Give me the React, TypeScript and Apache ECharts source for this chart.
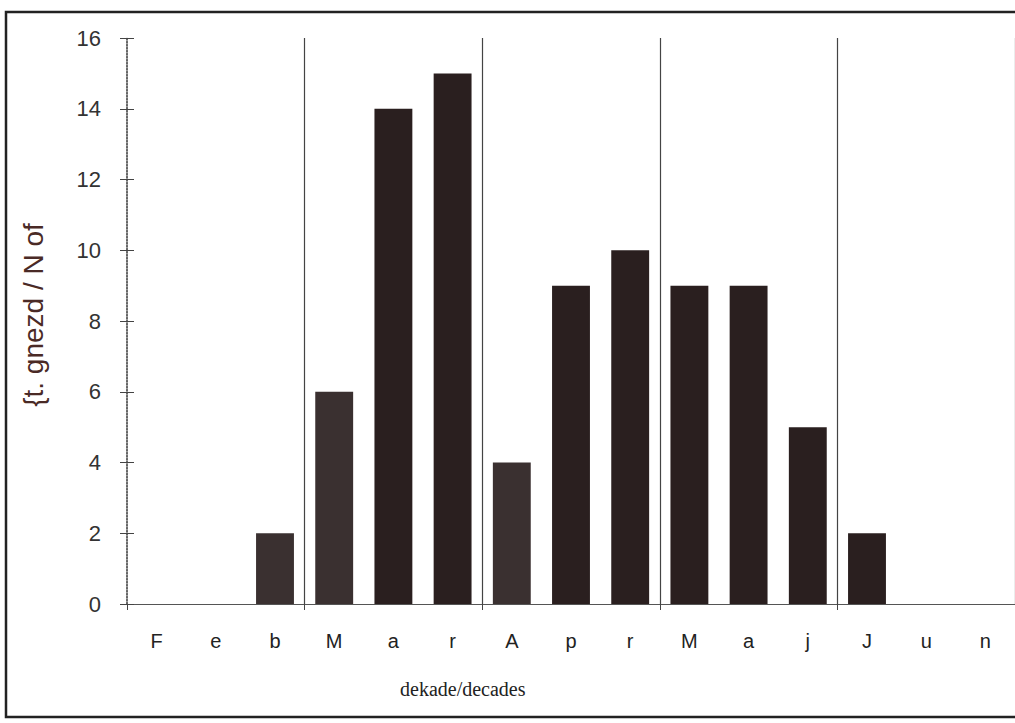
import React, { useEffect, useRef } from "react";
import * as echarts from "echarts";

const categories = ["F", "e", "b", "M", "a", "r", "A", "p", "r", "M", "a", "j", "J", "u", "n"];
const nestCounts = [0, 0, 2, 6, 14, 15, 4, 9, 10, 9, 9, 5, 2, 0, 0];
const lighterBars = [2, 3, 6];
const yMin = 0;
const yMax = 16;
const yStep = 2;
const yTitle = "{t. gnezd / N of";
const xTitle = "dekade/decades";

export default function App() {
  const ref = useRef<HTMLDivElement>(null);
  useEffect(() => {
    if (!ref.current) return;
    const chart = echarts.init(ref.current, undefined, { renderer: "svg" });
    const option = {
      animation: false,
      backgroundColor: "#ffffff",
      grid: { left: 127, right: 0, top: 38, bottom: 119, containLabel: false },
      xAxis: {
        type: "category",
        data: categories,
        boundaryGap: true,
        axisLine: { show: true, lineStyle: { color: "#555", width: 1.2 } },
        axisTick: {
          show: true,
          interval: (i: number) => i % 3 === 0,
          length: 6,
          lineStyle: { color: "#444" },
        },
        splitLine: {
          show: true,
          interval: (i: number) => i % 3 === 0 && i > 0,
          lineStyle: { color: "#444", width: 1.2 },
        },
        axisLabel: {
          interval: 0,
          margin: 27,
          fontSize: 20,
          color: "#222",
          fontFamily: "Liberation Sans, Arial, sans-serif",
        },
      },
      yAxis: [
        {
          type: "value",
          min: yMin,
          max: yMax,
          interval: yStep,
          name: yTitle,
          nameLocation: "middle",
          nameGap: 80,
          nameRotate: 90,
          nameTextStyle: {
            fontSize: 28,
            color: "#4a2a26",
            fontFamily: "Liberation Sans, Arial, sans-serif",
            padding: [0, 0, 0, 12],
          },
          axisLine: { show: true, lineStyle: { color: "#333", type: "dotted", width: 1.5 } },
          axisTick: { show: true, length: 7, lineStyle: { color: "#444" } },
          splitLine: { show: false },
          axisLabel: {
            margin: 26,
            fontSize: 22,
            color: "#333",
            fontFamily: "Liberation Sans, Arial, sans-serif",
          },
        },
        {
          type: "value",
          min: yMin,
          max: yMax,
          interval: yStep,
          position: "left",
          axisLine: { show: false },
          axisTick: { show: true, inside: true, length: 7, lineStyle: { color: "#444" } },
          axisLabel: { show: false },
          splitLine: { show: false },
        },
      ],
      series: [
        {
          type: "bar",
          barWidth: "64%",
          data: nestCounts.map((v, i) => ({
            value: v,
            itemStyle: { color: lighterBars.includes(i) ? "#3a3030" : "#2a1f1f" },
          })),
        },
      ],
      graphic: [
        {
          type: "text",
          left: 400,
          top: 679,
          style: {
            text: xTitle,
            fontSize: 20,
            fill: "#222",
            fontFamily: "Liberation Serif, DejaVu Serif, serif",
          },
        },
        {
          type: "rect",
          shape: { x: 6, y: 12, width: 1030, height: 705 },
          style: { fill: "none", stroke: "#222", lineWidth: 2.5 },
          silent: true,
        },
      ],
    };
    chart.setOption(option);
    return () => chart.dispose();
  }, []);
  return (
    <div
      ref={ref}
      style={{ position: "absolute", left: 0, top: 0, width: 1015, height: 723 }}
    />
  );
}
